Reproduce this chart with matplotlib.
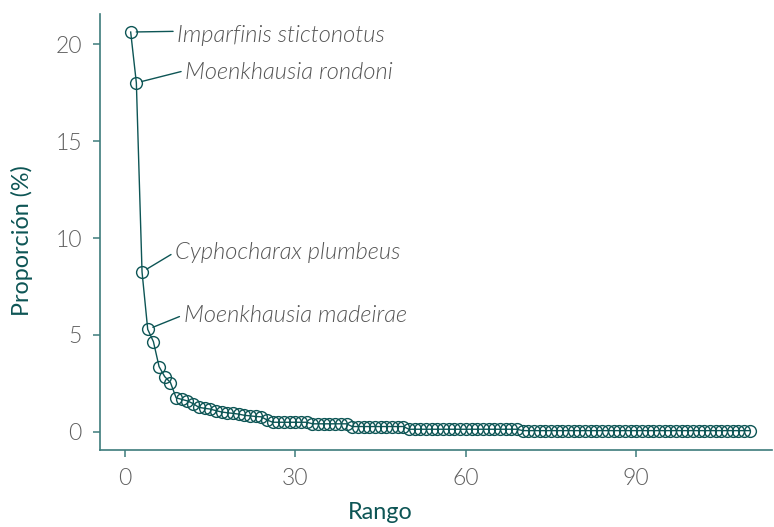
import numpy as np
import matplotlib.pyplot as plt

# rank-abundance values (%)
head = [20.62, 18.0, 8.25, 5.29, 4.66, 3.37, 2.85, 2.55, 1.76, 1.68, 1.60, 1.46,
        1.27, 1.22, 1.18, 1.10, 1.03, 0.99, 0.96, 0.92, 0.86, 0.83, 0.80, 0.78, 0.62]
tail = [0.50] * 7 + [0.42] * 7 + [0.28] * 10 + [0.14] * 20 + [0.07] * 41
proporcion = np.array(head + tail)
rango = np.arange(1, len(proporcion) + 1)

especies = ["Imparfinis stictonotus", "Moenkhausia rondoni",
            "Cyphocharax plumbeus", "Moenkhausia madeirae"]
especie_rango = [1, 2, 3, 4]
texto_x = [9.2, 10.6, 8.8, 10.3]
texto_y = [20.42, 18.55, 9.25, 5.98]
enganche = [0.72, 0.58, 0.52, 0.55]

teal = "#0d5555"
spine_col = "#3d7c7c"
gris = "#555555"

plt.rcParams['font.family'] = ['Lato', 'DejaVu Sans']

fig = plt.figure(figsize=(7.74, 5.27), dpi=100)
ax = fig.add_axes([100 / 774, 1 - 450 / 527, 672 / 774, 436 / 527])

ax.plot(rango, proporcion, color=teal, lw=1.0, marker='o', ms=8.5,
        mfc='none', mec=teal, mew=1.0)

for nombre, r, tx, ty, rp in zip(especies, especie_rango, texto_x, texto_y, enganche):
    ax.annotate(nombre, xy=(r, proporcion[r - 1]), xytext=(tx, ty),
                ha='left', va='center', fontsize=17, style='italic',
                fontweight=300, color=gris,
                arrowprops=dict(arrowstyle='-', color=teal, lw=1.0,
                                shrinkA=1, shrinkB=4, relpos=(0, rp)))

ax.set_xlim(-4.4, 113.9)
ax.set_ylim(-0.93, 21.55)
ax.set_xticks([0, 30, 60, 90])
ax.set_yticks([0, 5, 10, 15, 20])

for s in ['top', 'right']:
    ax.spines[s].set_visible(False)
for s in ['left', 'bottom']:
    ax.spines[s].set_color(spine_col)
    ax.spines[s].set_linewidth(1.2)

ax.tick_params(colors=spine_col, length=5, width=1.1, labelsize=16.5,
               labelcolor="#5f5f5f", pad=8)
for lab in ax.get_xticklabels() + ax.get_yticklabels():
    lab.set_fontweight(300)

ax.set_xlabel("Rango", fontsize=16.8, color=teal)
ax.set_ylabel("Proporción (%)", fontsize=16.8, color=teal)
ax.xaxis.set_label_coords(0.417, -0.12)
ax.yaxis.set_label_coords(-0.10, 0.48)

fig.savefig("out.png", dpi=100)
